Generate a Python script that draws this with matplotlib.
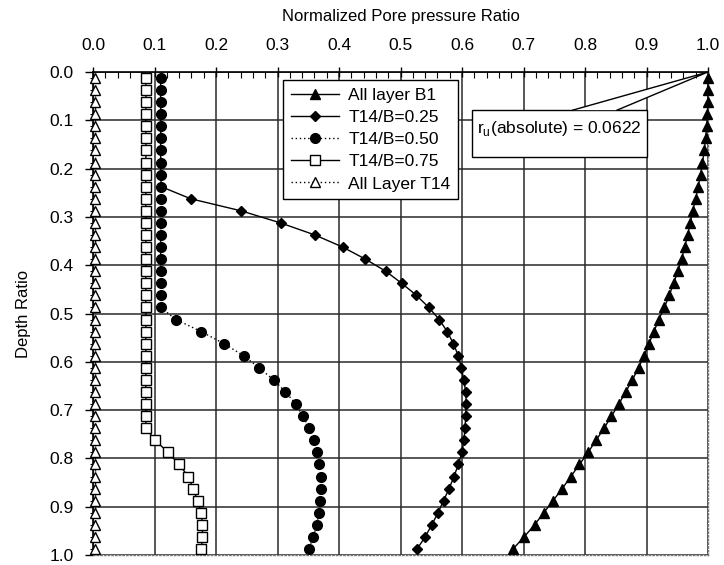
import numpy as np
import matplotlib
matplotlib.use("Agg")
import matplotlib.pyplot as plt
from matplotlib.patches import Rectangle

plt.rcParams["font.family"] = ["Liberation Sans", "DejaVu Sans"]

# depth ratio of each plotted point (cell centres)
depth = [0.0125, 0.0375, 0.0625, 0.0875, 0.1125, 0.1375, 0.1625, 0.1875,
         0.2125, 0.2375, 0.2625, 0.2875, 0.3125, 0.3375, 0.3625, 0.3875,
         0.4125, 0.4375, 0.4625, 0.4875, 0.5125, 0.5375, 0.5625, 0.5875,
         0.6125, 0.6375, 0.6625, 0.6875, 0.7125, 0.7375, 0.7625, 0.7875,
         0.8125, 0.8375, 0.8625, 0.8875, 0.9125, 0.9375, 0.9625, 0.9875]

all_b1 = [1.000, 1.000, 1.000, 0.999, 0.998, 0.996, 0.994, 0.991,
          0.988, 0.984, 0.980, 0.975, 0.971, 0.967, 0.962, 0.957,
          0.951, 0.944, 0.937, 0.929, 0.920, 0.912, 0.904, 0.896,
          0.887, 0.877, 0.866, 0.855, 0.843, 0.831, 0.818, 0.805,
          0.791, 0.777, 0.763, 0.748, 0.733, 0.718, 0.701, 0.683]

t14_025 = [0.110, 0.110, 0.110, 0.110, 0.110, 0.110, 0.110, 0.110,
           0.110, 0.111, 0.159, 0.241, 0.305, 0.361, 0.406, 0.443,
           0.476, 0.502, 0.526, 0.546, 0.563, 0.576, 0.586, 0.594,
           0.599, 0.603, 0.606, 0.607, 0.606, 0.605, 0.603, 0.600,
           0.594, 0.587, 0.579, 0.570, 0.561, 0.551, 0.540, 0.527]

t14_050 = [0.110, 0.110, 0.110, 0.110, 0.110, 0.110, 0.110, 0.110,
           0.110, 0.110, 0.110, 0.110, 0.110, 0.110, 0.110, 0.110,
           0.110, 0.110, 0.110, 0.110, 0.135, 0.176, 0.213, 0.245,
           0.270, 0.294, 0.313, 0.330, 0.341, 0.352, 0.360, 0.365,
           0.368, 0.370, 0.370, 0.369, 0.367, 0.364, 0.358, 0.351]

t14_075 = [0.086, 0.086, 0.086, 0.086, 0.086, 0.086, 0.086, 0.086,
           0.086, 0.086, 0.086, 0.086, 0.086, 0.086, 0.086, 0.086,
           0.086, 0.086, 0.086, 0.086, 0.086, 0.086, 0.086, 0.086,
           0.086, 0.086, 0.086, 0.086, 0.086, 0.086, 0.101, 0.122,
           0.140, 0.155, 0.163, 0.170, 0.176, 0.178, 0.178, 0.176]

all_t14 = [0.004, 0.004, 0.004, 0.004, 0.004, 0.004, 0.004, 0.004,
           0.004, 0.004, 0.004, 0.004, 0.004, 0.004, 0.004, 0.004,
           0.004, 0.004, 0.004, 0.004, 0.004, 0.004, 0.004, 0.004,
           0.004, 0.004, 0.004, 0.004, 0.004, 0.004, 0.004, 0.004,
           0.004, 0.004, 0.004, 0.004, 0.004, 0.004, 0.004, 0.004]

ru_text = "r$_\\mathregular{u}$(absolute) = 0.0622"

fig = plt.figure(figsize=(7.24, 5.65), dpi=100)
ax = fig.add_axes([93 / 724, 1 - 555 / 565, 615 / 724, 483 / 565])

ax.plot(all_b1, depth, "-", color="k", lw=1.0, marker="^", ms=6.5,
        mfc="k", mec="k", label="All layer B1", clip_on=False, zorder=4)
ax.plot(t14_025, depth, "-", color="k", lw=1.0, marker="D", ms=5,
        mfc="k", mec="k", label="T14/B=0.25", clip_on=False, zorder=4)
ax.plot(t14_050, depth, color="k", lw=1.0, ls=(0, (1, 2)), marker="o", ms=7,
        mfc="k", mec="k", label="T14/B=0.50", clip_on=False, zorder=4)
ax.plot(t14_075, depth, "-", color="k", lw=1.0, marker="s", ms=6.5,
        mfc="white", mec="k", mew=1.0, label="T14/B=0.75", clip_on=False, zorder=4)
ax.plot(all_t14, depth, color="k", lw=1.0, ls=(0, (1, 2)), marker="^", ms=6.5,
        mfc="white", mec="k", mew=1.0, label="All Layer T14", clip_on=False, zorder=4)

ax.set_xlim(0, 1)
ax.set_ylim(1, 0)
ax.xaxis.tick_top()
ax.xaxis.set_label_position("top")
ax.set_xticks(np.arange(0, 1.01, 0.1))
ax.set_xticks(np.arange(0, 1.001, 0.02), minor=True)
ax.set_xticklabels([f"{v:.1f}" for v in np.arange(0, 1.01, 0.1)])
ax.set_yticks(np.arange(0, 1.01, 0.1))
ax.set_yticks(depth, minor=True)
ax.set_yticklabels([f"{v:.1f}" for v in np.arange(0, 1.01, 0.1)])

ax.tick_params(axis="x", which="major", direction="inout", length=7, width=1,
               pad=10, labelsize=12.5, top=True, bottom=False)
ax.tick_params(axis="x", which="minor", direction="in", length=4, width=0.8,
               top=True, bottom=False)
ax.tick_params(axis="y", which="major", direction="out", length=6, width=1,
               pad=8, labelsize=12.5)
ax.tick_params(axis="y", which="minor", direction="inout", length=5, width=0.8)

ax.grid(True, which="major", color="#2a2a2a", lw=1.1)
ax.set_axisbelow(True)

for side in ("top", "left"):
    ax.spines[side].set_color("k")
    ax.spines[side].set_linewidth(1.2)
for side in ("right", "bottom"):
    ax.spines[side].set_color("#777777")
    ax.spines[side].set_linestyle(":")
    ax.spines[side].set_linewidth(1.0)

ax.set_xlabel("Normalized Pore pressure Ratio", fontsize=12)
ax.xaxis.set_label_coords(0.5, 1 + (72 - 21) / 483)
ax.set_ylabel("Depth Ratio", fontsize=12)
ax.yaxis.set_label_coords(-0.10, 0.5)

leg = ax.legend(loc="upper left", bbox_to_anchor=(0.309, 0.983), fontsize=12.5,
                frameon=True, fancybox=False, framealpha=1, edgecolor="k",
                handlelength=2.8, borderaxespad=0, borderpad=0.45,
                labelspacing=0.4, handletextpad=0.5)
leg.get_frame().set_linewidth(1.0)
leg.set_zorder(10)

# callout box for r_u
ax.add_patch(Rectangle((0.617, 0.079), 0.283, 0.097, facecolor="white",
                       edgecolor="k", lw=1.0, zorder=6))
ax.fill([0.78, 0.852, 1.0], [0.079, 0.079, 0.0], facecolor="white",
        edgecolor="none", zorder=7, clip_on=False)
ax.plot([0.78, 1.0, 0.852], [0.079, 0.0, 0.079], color="k", lw=1.0,
        zorder=7, clip_on=False)
ax.text(0.624, 0.117, ru_text, fontsize=12.5, va="center", ha="left", zorder=8)

fig.savefig("out.png", dpi=100)
